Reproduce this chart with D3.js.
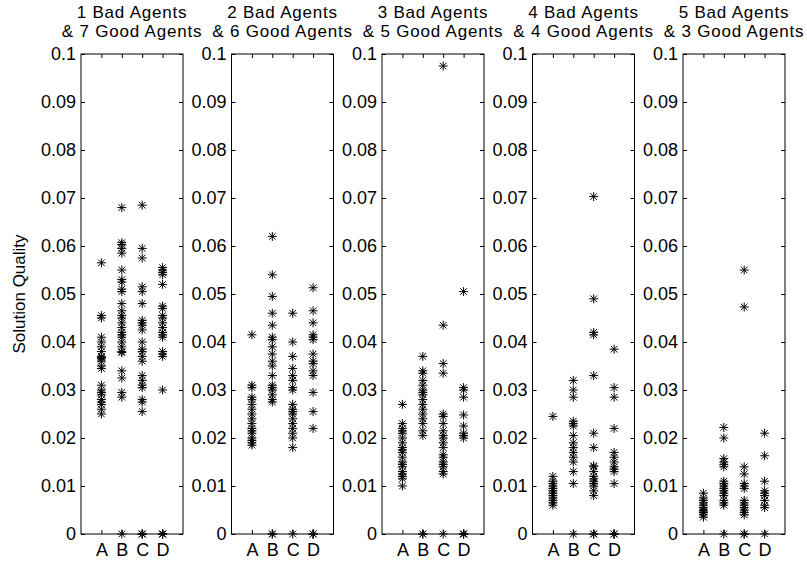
<!DOCTYPE html>
<html>
<head>
<meta charset="utf-8">
<script src="https://cdn.jsdelivr.net/npm/d3@7"></script>
<style>
  html, body { margin: 0; padding: 0; background: #fff; }
  svg text { font-family: "Liberation Sans", Arial, Helvetica, sans-serif; fill: #000; }
</style>
</head>
<body>
<svg id="chart" width="807" height="564"></svg>
<script>
// Categories and y ticks shared by every panel
const categories = ["A", "B", "C", "D"];
const yTicks = [0, 0.01, 0.02, 0.03, 0.04, 0.05, 0.06, 0.07, 0.08, 0.09, 0.1];

const panelTitles = [
  ["1 Bad Agents", "& 7 Good Agents"],
  ["2 Bad Agents", "& 6 Good Agents"],
  ["3 Bad Agents", "& 5 Good Agents"],
  ["4 Bad Agents", "& 4 Good Agents"],
  ["5 Bad Agents", "& 3 Good Agents"]
];

// Solution quality per run, one list per category (A, B, C, D)
const bad1 = [
  [0.0565, 0.0455, 0.045, 0.041, 0.040, 0.039, 0.038, 0.037, 0.0368, 0.0365, 0.036, 0.035, 0.0345,
   0.031, 0.030, 0.0295, 0.029, 0.028, 0.0275, 0.027, 0.026, 0.025],
  [0, 0.068, 0.0607, 0.0603, 0.0595, 0.0585, 0.055, 0.053, 0.0525, 0.051, 0.0505, 0.048, 0.0465, 0.0455,
   0.045, 0.044, 0.043, 0.042, 0.0415, 0.041, 0.040, 0.039, 0.038, 0.0378, 0.034, 0.0325, 0.0295, 0.0285],
  [0, 0, 0, 0.0685, 0.0595, 0.0575, 0.0515, 0.0505, 0.048, 0.0445, 0.044, 0.0435, 0.0425, 0.040, 0.0385,
   0.038, 0.037, 0.036, 0.033, 0.032, 0.031, 0.0305, 0.028, 0.0275, 0.0255],
  [0, 0, 0, 0.0555, 0.055, 0.0545, 0.054, 0.052, 0.0475, 0.047, 0.0455, 0.045, 0.044, 0.043, 0.042,
   0.0415, 0.041, 0.038, 0.0375, 0.037, 0.030]
];
const bad2 = [
  [0.0415, 0.031, 0.0305, 0.0285, 0.028, 0.027, 0.026, 0.025, 0.024, 0.023, 0.022, 0.0215, 0.021,
   0.020, 0.0195, 0.019, 0.0185],
  [0, 0, 0.062, 0.054, 0.0495, 0.046, 0.0435, 0.041, 0.0405, 0.039, 0.0375, 0.036, 0.035, 0.033, 0.031,
   0.0305, 0.030, 0.029, 0.028, 0.0275],
  [0, 0.046, 0.040, 0.037, 0.0345, 0.033, 0.032, 0.0305, 0.030, 0.027, 0.026, 0.0255, 0.025, 0.024,
   0.023, 0.022, 0.021, 0.020, 0.018],
  [0, 0, 0, 0.0513, 0.0465, 0.044, 0.0415, 0.041, 0.0405, 0.0375, 0.036, 0.0355, 0.034, 0.033,
   0.0295, 0.0255, 0.022]
];
const bad3 = [
  [0.027, 0.023, 0.022, 0.0215, 0.021, 0.020, 0.019, 0.018, 0.0175, 0.017, 0.016, 0.015, 0.0145,
   0.014, 0.013, 0.0125, 0.012, 0.0115, 0.010],
  [0, 0, 0.037, 0.034, 0.0335, 0.032, 0.031, 0.030, 0.0295, 0.029, 0.028, 0.027, 0.026, 0.025, 0.024,
   0.023, 0.0215, 0.0205],
  [0, 0.0975, 0.0435, 0.0355, 0.0335, 0.025, 0.0245, 0.023, 0.0215, 0.0205, 0.020, 0.019, 0.018,
   0.0165, 0.016, 0.015, 0.0145, 0.014, 0.013, 0.0125],
  [0, 0, 0, 0.0505, 0.0305, 0.030, 0.0285, 0.0248, 0.0225, 0.021, 0.0205, 0.020]
];
const bad4 = [
  [0.0245, 0.012, 0.011, 0.0105, 0.010, 0.0095, 0.009, 0.0085, 0.008, 0.0075, 0.007, 0.0065, 0.006],
  [0, 0.032, 0.030, 0.0285, 0.0235, 0.023, 0.0225, 0.0205, 0.019, 0.018, 0.017, 0.016, 0.015,
   0.013, 0.0105],
  [0, 0, 0.0703, 0.049, 0.042, 0.0415, 0.033, 0.021, 0.018, 0.0142, 0.014, 0.013, 0.012, 0.0115,
   0.011, 0.0105, 0.010, 0.009, 0.008],
  [0, 0, 0, 0.0385, 0.0305, 0.0285, 0.022, 0.017, 0.016, 0.015, 0.014, 0.0135, 0.013, 0.0105]
];
const bad5 = [
  [0.0085, 0.0075, 0.007, 0.0065, 0.006, 0.0055, 0.005, 0.0048, 0.0045, 0.004, 0.0035],
  [0, 0.0222, 0.020, 0.0157, 0.015, 0.0145, 0.014, 0.011, 0.0105, 0.010, 0.0095, 0.009, 0.0085,
   0.008, 0.007, 0.0065, 0.006],
  [0, 0, 0.055, 0.0473, 0.014, 0.0125, 0.0105, 0.010, 0.0095, 0.007, 0.0065, 0.006, 0.0055, 0.005,
   0.0045, 0.004],
  [0, 0.021, 0.0163, 0.011, 0.009, 0.0085, 0.008, 0.007, 0.006, 0.0055]
];
const panels = [bad1, bad2, bad3, bad4, bad5];

const svg = d3.select("#chart");
const plotTop = 54, plotBottom = 534, panelW = 102;

const y = d3.scaleLinear().domain([0, 0.1]).range([plotBottom, plotTop]);
const panelLeft = d3.scaleLinear().domain([0, panels.length - 1]).range([81, 683]);
const x = d3.scaleLinear().domain([0, 5]).range([0, panelW]);
const catPos = categories.map((c, i) => i + 1);

// Asterisk marker: plus sign overlaid with a cross
const star = "M-4.5,0H4.5M0,-4.5V4.5M-3.3,-3.3L3.3,3.3M-3.3,3.3L3.3,-3.3";

const fmt = d => d === 0 ? "0" : d3.format(".2~f")(d);

panels.forEach((series, p) => {
  const g = svg.append("g").attr("transform", `translate(${panelLeft(p)},0)`);

  // Points
  series.forEach((vals, ci) => {
    g.append("g").selectAll("path").data(vals).join("path")
      .attr("d", star)
      .attr("transform", v => `translate(${x(catPos[ci])},${y(v)})`)
      .attr("fill", "none")
      .attr("stroke", "#000")
      .attr("stroke-width", 1);
  });

  // Axes with inward ticks (box style)
  const left = g.append("g")
    .call(d3.axisLeft(y).tickValues(yTicks).tickSize(-4).tickSizeOuter(0).tickPadding(5).tickFormat(fmt));
  const right = g.append("g").attr("transform", `translate(${panelW},0)`)
    .call(d3.axisRight(y).tickValues(yTicks).tickSize(-4).tickSizeOuter(0).tickFormat(""));
  const topAx = g.append("g").attr("transform", `translate(0,${plotTop})`)
    .call(d3.axisTop(x).tickValues(catPos).tickSize(-4).tickSizeOuter(0).tickFormat(""));
  const bottomAx = g.append("g").attr("transform", `translate(0,${plotBottom})`)
    .call(d3.axisBottom(x).tickValues(catPos).tickSize(-4).tickSizeOuter(0).tickPadding(9)
      .tickFormat((d, i) => categories[i]));

  [left, right, topAx, bottomAx].forEach(a => {
    a.selectAll("path.domain").remove();
    a.selectAll("line").attr("stroke", "#000");
    a.selectAll("text").attr("font-size", 18).attr("fill", "#000")
      .style("font-family", "'Liberation Sans', Arial, sans-serif");
  });

  g.append("rect")
    .attr("x", 0).attr("y", plotTop)
    .attr("width", panelW).attr("height", plotBottom - plotTop)
    .attr("fill", "none").attr("stroke", "#000").attr("stroke-width", 1);

  // Two-line title centred over the panel
  const t = g.append("text")
    .attr("x", panelW / 2).attr("text-anchor", "middle")
    .attr("font-size", 17).style("letter-spacing", "0.8px");
  t.append("tspan").attr("x", panelW / 2).attr("y", 17.5).text(panelTitles[p][0]);
  t.append("tspan").attr("x", panelW / 2).attr("y", 36.8).text(panelTitles[p][1]);
});

// Shared y-axis label
svg.append("text")
  .attr("transform", `translate(25,${(plotTop + plotBottom) / 2}) rotate(-90)`)
  .attr("text-anchor", "middle")
  .attr("font-size", 17)
  .text("Solution Quality");
</script>
</body>
</html>
